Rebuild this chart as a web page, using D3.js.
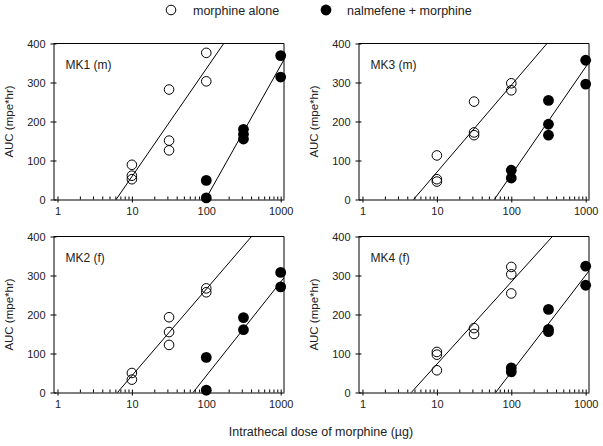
<!DOCTYPE html>
<html>
<head>
<meta charset="utf-8">
<script src="https://cdn.jsdelivr.net/npm/d3@7"></script>
<style>
  body { margin: 0; background: #fff; }
  svg { display: block; font-family: "Liberation Sans", Arial, sans-serif; }
</style>
</head>
<body>
<div id="chart"></div>
<script>
// panel names, in reading order
var panelNames = ["MK1 (m)", "MK3 (m)", "MK2 (f)", "MK4 (f)"];

// morphine alone: [dose ug, AUC]
var mk1Alone = [[10, 89], [10, 61], [10, 52], [31.6, 282], [31.6, 151], [31.6, 126], [100, 376], [100, 303]];
var mk3Alone = [[10, 113], [10, 52], [10, 46], [31.6, 251], [31.6, 172], [31.6, 165], [100, 298], [100, 280]];
var mk2Alone = [[10, 50], [10, 33], [31.6, 193], [31.6, 155], [31.6, 122], [100, 267], [100, 257]];
var mk4Alone = [[10, 104], [10, 97], [10, 57], [31.6, 165], [31.6, 150], [100, 322], [100, 303], [100, 254]];

// nalmefene + morphine
var mk1Nalm = [[100, 49], [100, 4], [316, 180], [316, 167], [316, 155], [1000, 369], [1000, 314]];
var mk3Nalm = [[100, 75], [100, 55], [316, 254], [316, 193], [316, 165], [1000, 357], [1000, 296]];
var mk2Nalm = [[100, 90], [100, 6], [316, 192], [316, 161], [1000, 308], [1000, 271]];
var mk4Nalm = [[100, 63], [100, 53], [316, 213], [316, 162], [316, 156], [1000, 324], [1000, 275]];

// fitted lines: AUC = slope * log10(dose) + intercept  -> [slope, intercept]
var mk1Fit = [[276.6, -218], [339.5, -675]];
var mk3Fit = [[223, -153], [276.6, -490]];
var mk2Fit = [[222, -179], [240.7, -438.6]];
var mk4Fit = [[210.9, -138.3], [248.4, -444.6]];

var xTicks = [1, 10, 100, 1000];
var yTicks = [0, 100, 200, 300, 400];

var panelAlone = [mk1Alone, mk3Alone, mk2Alone, mk4Alone];
var panelNalm = [mk1Nalm, mk3Nalm, mk2Nalm, mk4Nalm];
var panelFit = [mk1Fit, mk3Fit, mk2Fit, mk4Fit];

var width = 603, height = 446;
var plotW = 230.5, plotH = 156;
var lefts = [53.5, 358.5];
var tops = [43.5, 236.5];

var svg = d3.select("#chart").append("svg")
  .attr("width", width)
  .attr("height", height);

var x = d3.scaleLog().domain([0.884, 1108]).range([0, plotW]);
var y = d3.scaleLinear().domain([0, 400]).range([plotH, 0]);

var minorTicks = [];
[1, 10, 100].forEach(function(d) {
  for (var k = 1; k <= 9; k++) minorTicks.push(d * k);
});
minorTicks.push(1000);

panelNames.forEach(function(name, i) {
  var col = i % 2, row = Math.floor(i / 2);
  var g = svg.append("g")
    .attr("transform", "translate(" + lefts[col] + "," + tops[row] + ")");

  g.append("clipPath").attr("id", "clip" + i)
    .append("rect").attr("width", plotW).attr("height", plotH);

  // frame top and right
  g.append("path")
    .attr("d", "M0,0H" + plotW + "V" + plotH)
    .attr("fill", "none")
    .attr("stroke", "#000")
    .attr("stroke-width", 1);

  // x axis: majors with labels, all ticks pointing up
  var xa = g.append("g")
    .attr("transform", "translate(0," + plotH + ")")
    .call(d3.axisBottom(x).tickValues(xTicks).tickFormat(d3.format("d"))
      .tickSizeInner(3).tickSizeOuter(0).tickPadding(5));
  g.append("g")
    .attr("transform", "translate(0," + plotH + ")")
    .call(d3.axisBottom(x).tickValues(minorTicks).tickFormat("")
      .tickSizeInner(-3).tickSizeOuter(0))
    .call(function(s) { s.select(".domain").remove(); });

  // y axis, ticks crossing
  g.append("g")
    .call(d3.axisLeft(y).tickValues(yTicks)
      .tickSizeInner(3).tickSizeOuter(0).tickPadding(5));
  g.append("g")
    .call(d3.axisLeft(y).tickValues(yTicks).tickFormat("")
      .tickSizeInner(-3).tickSizeOuter(0))
    .call(function(s) { s.select(".domain").remove(); });

  g.selectAll(".tick text")
    .attr("font-size", 11)
    .attr("font-family", "Liberation Sans, Arial, sans-serif")
    .attr("fill", "#222");
  g.selectAll(".domain, .tick line").attr("stroke", "#000");

  // y label
  g.append("text")
    .attr("transform", "translate(" + (-41) + "," + (plotH / 2) + ") rotate(-90)")
    .attr("text-anchor", "middle")
    .attr("font-size", 11.5)
    .attr("fill", "#222")
    .text("AUC (mpe*hr)");

  // panel label
  g.append("text")
    .attr("x", 12)
    .attr("y", 25)
    .attr("font-size", 12)
    .attr("fill", "#222")
    .text(name);

  // fit lines
  var logs = d3.range(-0.1, 3.1, 0.05);
  panelFit[i].forEach(function(f) {
    var pts = [0.5, 1500].map(function(d) {
      return [d, f[0] * Math.log10(d) + f[1]];
    });
    g.append("path")
      .datum(pts)
      .attr("clip-path", "url(#clip" + i + ")")
      .attr("fill", "none")
      .attr("stroke", "#000")
      .attr("stroke-width", 1)
      .attr("d", d3.line().x(function(d) { return x(d[0]); }).y(function(d) { return y(d[1]); }));
  });

  g.selectAll("circle.alone")
    .data(panelAlone[i])
    .enter().append("circle")
    .attr("class", "alone")
    .attr("cx", function(d) { return x(d[0]); })
    .attr("cy", function(d) { return y(d[1]); })
    .attr("r", 4.8)
    .attr("fill", "none")
    .attr("stroke", "#000")
    .attr("stroke-width", 1);

  g.selectAll("circle.nalm")
    .data(panelNalm[i])
    .enter().append("circle")
    .attr("class", "nalm")
    .attr("cx", function(d) { return x(d[0]); })
    .attr("cy", function(d) { return y(d[1]); })
    .attr("r", 5.4)
    .attr("fill", "#000");
});

// legend
var legend = svg.append("g");
legend.append("circle").attr("cx", 171).attr("cy", 10).attr("r", 4.8)
  .attr("fill", "none").attr("stroke", "#000").attr("stroke-width", 1);
legend.append("text").attr("x", 193).attr("y", 14.5).attr("font-size", 12.5)
  .attr("fill", "#222").text("morphine alone");
legend.append("circle").attr("cx", 326).attr("cy", 10).attr("r", 5.4).attr("fill", "#000");
legend.append("text").attr("x", 347).attr("y", 14.5).attr("font-size", 12.5)
  .attr("fill", "#222").text("nalmefene + morphine");

// x title
svg.append("text")
  .attr("x", 321)
  .attr("y", 436)
  .attr("text-anchor", "middle")
  .attr("font-size", 12.5)
  .attr("fill", "#222")
  .text("Intrathecal dose of morphine (\u00b5g)");
</script>
</body>
</html>
